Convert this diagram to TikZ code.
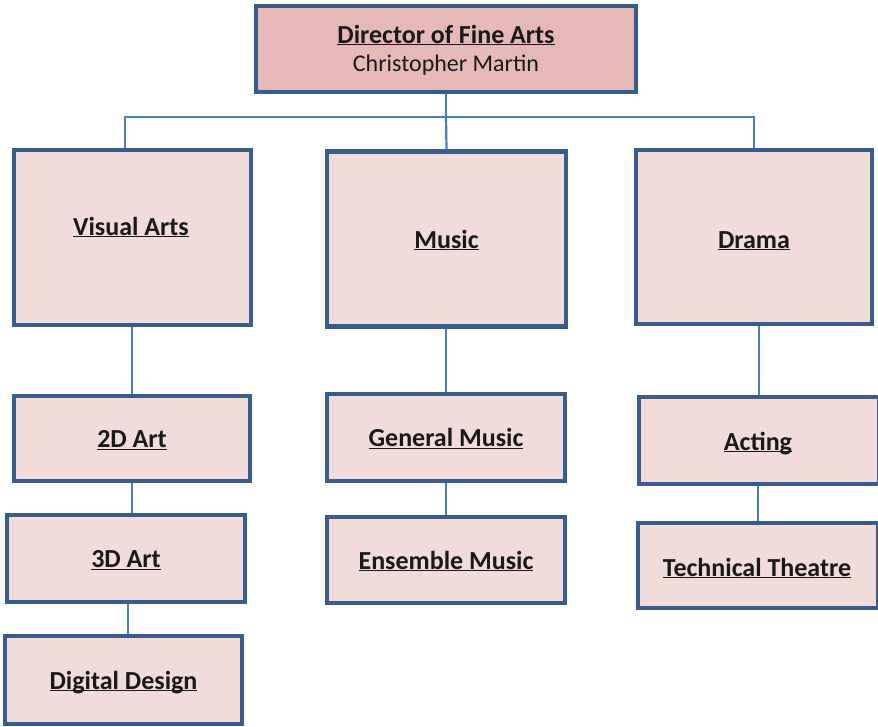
\documentclass[tikz,border=0pt]{standalone}
\usepackage{fontspec}
\setmainfont{Carlito}
\newcommand\uln[1]{\underline{\smash{#1}}\rule{0pt}{20pt}}
\definecolor{boxline}{HTML}{385D8A}
\definecolor{boxfill}{HTML}{F2DCDB}
\definecolor{topfill}{HTML}{E6B9B8}
\definecolor{conn}{HTML}{4A7EBB}
\begin{document}
\begin{tikzpicture}[x=1pt,y=-1pt,
  orgbox/.style={draw=boxline, line width=4.5pt, fill=boxfill, rectangle, inner sep=0pt,
    font=\fontsize{26}{30}\selectfont\bfseries, text=black!90},
  lbl/.style={font=\fontsize{26}{30}\selectfont\bfseries, text=black!90, inner sep=0pt},
  link/.style={draw=conn, line width=2.2pt}]
\useasboundingbox (0,0) rectangle (878,726);
% boxes
\node[orgbox, fill=topfill, minimum width=380pt, minimum height=86pt, align=center,
  font=\fontsize{24}{28}\selectfont] (dir) at (446,49)
  {{\fontsize{26}{28}\selectfont\bfseries\uln{Director of Fine Arts}}\\Christopher Martin};
\node[orgbox, minimum width=237pt, minimum height=175pt] (va) at (132.5,237.5) {};
\node[lbl] (vat) at (131,226) {\uln{Visual Arts}};
\node[orgbox, minimum width=239pt, minimum height=175pt] (mus) at (446.5,239) {};
\node[lbl] at (446.5,239) {\uln{Music}};
\node[orgbox, minimum width=236pt, minimum height=174pt] (dra) at (754,237) {};
\node[lbl] at (754,239) {\uln{Drama}};
\node[orgbox, minimum width=236pt, minimum height=85pt] (art2) at (132,438.5) {\uln{2D Art}};
\node[orgbox, minimum width=238pt, minimum height=87pt] (art3) at (126,558.5) {\uln{3D Art}};
\node[orgbox, minimum width=237pt, minimum height=88pt] (dd) at (123.5,680) {\uln{Digital Design}};
\node[orgbox, minimum width=238pt, minimum height=87pt] (gm) at (446,437.5) {\uln{General Music}};
\node[orgbox, minimum width=238pt, minimum height=86pt] (em) at (446,560) {\uln{Ensemble Music}};
\node[orgbox, minimum width=240pt, minimum height=87pt] (act) at (759,440.5) {};
\node[lbl] at (758,441) {\uln{Acting}};
\node[orgbox, minimum width=240pt, minimum height=85pt] (tt) at (758,565.5) {};
\node[lbl] at (757,567) {\uln{Technical Theatre}};
% junction coordinates
\coordinate (j) at (446,117);
\coordinate (lj) at (125,117);
\coordinate (rj) at (754,117);
% connectors
\draw[link] (dir.south) -- (j);
\draw[link] (j) -- (mus.north);
\draw[link] (va.north -| lj) -- (lj) -- (rj) -- (dra.north -| rj);
\draw[link] (va.south -| art2.north) -- (art2.north);
\draw[link] (art2.south -| art2.north) -- (art3.north -| art2.north);
\draw[link] (art3.south -| 128,0) -- (dd.north -| 128,0);
\draw[link] (mus.south -| gm.north) -- (gm.north);
\draw[link] (gm.south) -- (em.north);
\draw[link] (dra.south -| act.north) -- (act.north);
\draw[link] (act.south -| tt.north) -- (tt.north);
\end{tikzpicture}
\end{document}
